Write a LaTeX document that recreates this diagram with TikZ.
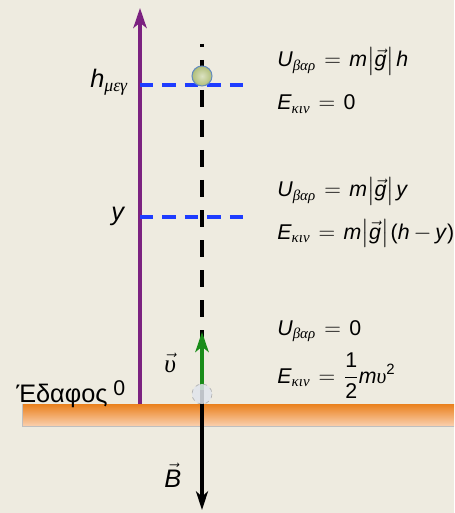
\documentclass[tikz,border=0pt]{standalone}
\usepackage{amsmath}
\usepackage{fontspec}
\setmainfont{Liberation Sans}
\newfontfamily\grkserif{Liberation Serif}
\usetikzlibrary{arrows.meta}
\definecolor{paper}{RGB}{238,235,224}
\definecolor{heightpurple}{RGB}{123,33,128}
\definecolor{levelblue}{RGB}{30,60,255}
\definecolor{speedgreen}{RGB}{25,140,25}
\definecolor{groundorange}{RGB}{234,128,28}
\definecolor{groundlight}{RGB}{250,208,175}
\definecolor{ballgreen}{RGB}{176,190,120}
\definecolor{ballrim}{RGB}{100,140,190}
\definecolor{launchgray}{RGB}{224,229,236}
\newcommand{\gsub}[1]{$_{\text{\grkserif\itshape #1}}$}
\newcommand{\absg}{$\bigl|\vec{\textit{g}}\bigr|$\kern1.5pt}
\newcommand{\Ubar}{\textit{U}\gsub{βαρ}\kern1.5pt${}={}$\kern1.5pt}
\newcommand{\Ekin}{\textit{E}\gsub{κιν}\kern1.5pt${}={}$\kern1.5pt}

\begin{document}
\begin{tikzpicture}[x=0.75pt, y=-0.75pt,
  eqn/.style={anchor=base west, inner sep=0pt, font=\fontsize{16}{18}\selectfont},
  lbl/.style={anchor=base west, inner sep=0pt, font=\fontsize{19}{21}\selectfont},
  level/.style={levelblue, line width=2.4pt, dash pattern=on 10.1pt off 6.75pt},
  tip/.style={-{Stealth[length=15pt, width=10pt, inset=4pt]}}]
  \fill[paper] (0,0) rectangle (454,513);
  \useasboundingbox (0,0) rectangle (454,513);
  % ground
  \shade[top color=groundorange, bottom color=groundlight] (22,404) rectangle (454,426);
  \draw[black!25, line width=0.6pt] (22,404) -- (22,426) -- (454,426);
  % height axis
  \coordinate (base) at (140,404);
  \coordinate (top) at (140,8);
  \draw[heightpurple, line width=2.5pt, tip] (base) -- (top);
  % levels
  \coordinate (hmax) at (140,85);
  \coordinate (hend) at (244,85);
  \coordinate (ymid) at (140,217);
  \coordinate (yend) at (244,217);
  \draw[level] (hmax) -- (hend);
  \draw[level] (ymid) -- (yend);
  % path of the ball
  \coordinate (drop) at (202,44);
  \coordinate (ground) at (202,404);
  \draw[black, line width=3pt, dash pattern=on 12.75pt off 9.75pt, dash phase=10.5pt] (drop) -- (ground);
  \coordinate (ball) at (202,76);
  \shade[inner color=white!55!ballgreen, outer color=ballgreen] (ball) circle (10);
  \draw[ballrim, line width=0.8pt] (ball) circle (10);
  \coordinate (start) at (202,390);
  \coordinate (speed) at (202,332);
  \draw[speedgreen, line width=2.6pt, tip] (start) -- (speed);
  \coordinate (launch) at (202,394);
  \fill[launchgray, opacity=0.85] (launch) circle (10);
  \draw[black!30, dashed, line width=0.5pt] (launch) circle (10);
  \coordinate (weight) at (202,510);
  \draw[black, line width=3pt, -{Stealth[length=14pt, width=9pt, inset=4pt]}] (ground) -- (weight);
  % labels
  \node[lbl] (hlabel) at (90,88) {\textit{h}\gsub{μεγ}};
  \node[lbl] (ylabel) at (111,220) {\textit{y}};
  \node[lbl] (floor) at (16,402) {Έδαφος};
  \node[anchor=base west, inner sep=0pt, font=\fontsize{16}{18}\selectfont] (zero) at (113,395) {0};
  \node[lbl] (vlabel) at (164,372) {$\vec{\text{\grkserif\itshape υ}}$};
  \node[lbl] (Blabel) at (164,487) {$\vec{\textit{B}}$};
  % energies
  \node[eqn] (Utop) at (277,67) {\Ubar\textit{m}\absg\textit{h}};
  \node[eqn] (Etop) at (277,110) {\Ekin 0};
  \node[eqn] (Umid) at (277,197) {\Ubar\textit{m}\absg\textit{y}};
  \node[eqn] (Emid) at (277,239) {\Ekin\textit{m}\absg(\textit{h}$\,-\,$\textit{y})};
  \node[eqn] (Ulow) at (277,335) {\Ubar 0};
  \node[eqn] (Elow) at (277,383) {\Ekin$\dfrac{\text{1}}{\text{2}}$\textit{m}\textit{\grkserif υ}$^{\text{2}}$};
\end{tikzpicture}
\end{document}
